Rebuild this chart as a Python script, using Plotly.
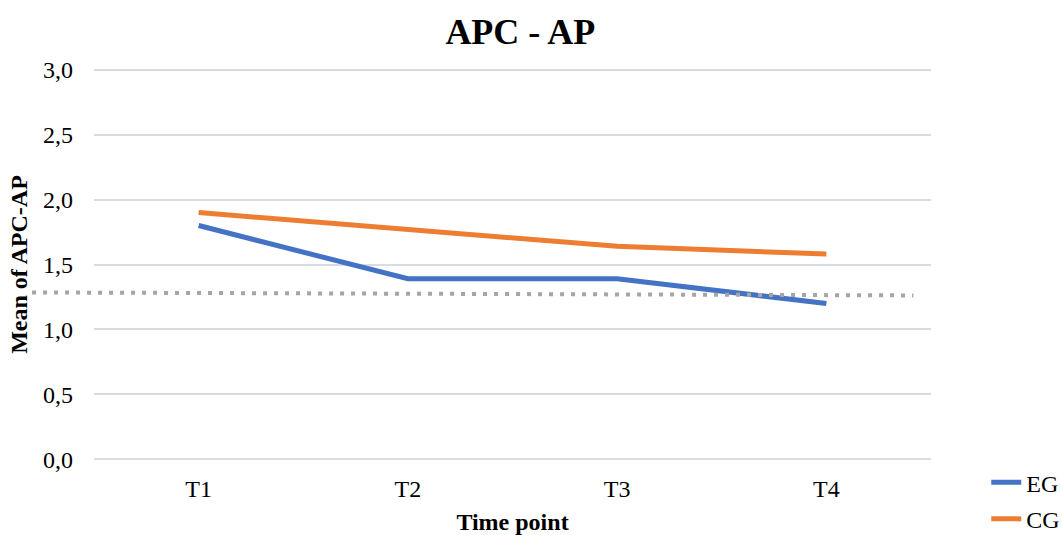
import plotly.graph_objects as go

categories = ["T1", "T2", "T3", "T4"]
eg_values = [1.8, 1.39, 1.39, 1.2]
cg_values = [1.9, 1.77, 1.64, 1.58]
ref_line_values = [1.285, 1.262]  # dotted reference line, start / end
y_ticks = [0.0, 0.5, 1.0, 1.5, 2.0, 2.5, 3.0]

FONT = "Liberation Serif, Times New Roman, serif"
BLUE = "#4472C4"
ORANGE = "#ED7D31"
GRID = "#D9DDE3"

fig = go.Figure()
fig.add_trace(go.Scatter(x=categories, y=eg_values, name="EG", mode="lines",
                         line=dict(color=BLUE, width=5), legend="legend"))
fig.add_trace(go.Scatter(x=categories, y=cg_values, name="CG", mode="lines",
                         line=dict(color=ORANGE, width=5), legend="legend2"))

fig.add_shape(type="line", xref="paper", yref="y",
              x0=-0.074, x1=0.979, y0=ref_line_values[0], y1=ref_line_values[1],
              line=dict(color="#A5A5A5", width=4, dash="4px,7px"), layer="above")

fig.update_layout(
    width=1062, height=535,
    margin=dict(l=94, r=131, t=67, b=73, autoexpand=False),
    paper_bgcolor="white", plot_bgcolor="white",
    separators=",.",
    font=dict(family=FONT, size=24, color="#000000"),
    title=dict(text="<b>APC - AP</b>", x=0.49, xanchor="center", xref="container",
               y=0.942, yanchor="middle", font=dict(size=36, family=FONT)),
    xaxis=dict(type="category", range=[-0.5, 3.5], showgrid=False, zeroline=False,
               showline=False, ticks="", ticklabelstandoff=10, automargin=False,
               tickfont=dict(size=24),
               title=dict(text="<b>Time point</b>", font=dict(size=24), standoff=18)),
    yaxis=dict(range=[-0.02, 3.02], tickvals=y_ticks, tickformat=".1f", automargin=False,
               showgrid=True, gridcolor=GRID, gridwidth=1.5, zeroline=False,
               showline=False, ticks="", ticklabelstandoff=20,
               tickfont=dict(size=24),
               title=dict(text="<b>Mean of APC-AP</b>", font=dict(size=24), standoff=8)),
    legend=dict(x=1.066, y=-0.052, xanchor="left", yanchor="middle",
                font=dict(size=24), bgcolor="rgba(0,0,0,0)", itemwidth=30),
    legend2=dict(x=1.066, y=-0.145, xanchor="left", yanchor="middle",
                 font=dict(size=24), bgcolor="rgba(0,0,0,0)", itemwidth=30),
    showlegend=True,
)

fig.write_html("out.html")
